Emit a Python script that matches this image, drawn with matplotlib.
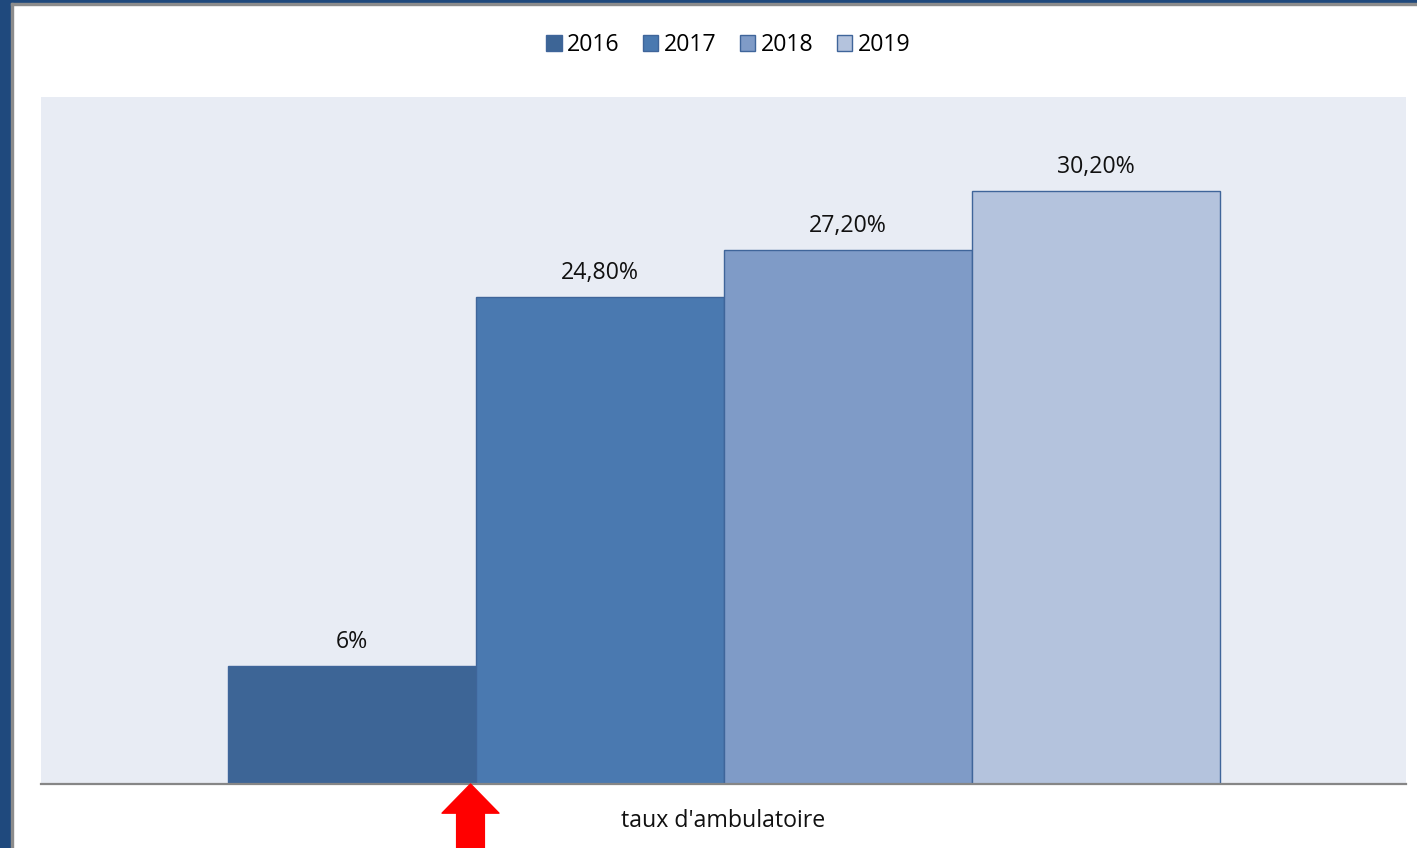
import numpy as np
import matplotlib
matplotlib.use('Agg')
from matplotlib import pyplot as plt
from matplotlib.patches import Rectangle

plt.rcParams['font.family'] = ['Open Sans', 'DejaVu Sans']

category = "taux d'ambulatoire"
years = ['2016', '2017', '2018', '2019']
values = [6.0, 24.8, 27.2, 30.2]
labels = ['6%', '24,80%', '27,20%', '30,20%']
colors = ['#3D6596', '#4A79B0', '#7F9BC7', '#B4C3DD']

fig = plt.figure(figsize=(14.17, 8.48), dpi=100)
ax = fig.add_axes([41/1417, 64/848, 1365/1417, 687/848])
ax.set_facecolor('#E8ECF4')

w = 248/1365  # bar width in data units
offsets = (np.arange(len(years)) - 1.5) * w
for off, v, c, yr, lab in zip(offsets, values, colors, years, labels):
    ax.bar(off, v, width=w, color=c, edgecolor='#3F659A', linewidth=1.0, label=yr)
    ax.annotate(lab, (off, v), xytext=(0, 9), textcoords='offset points',
                ha='center', va='bottom', fontsize=16.7, color='#111111')

ax.set_xlim(-0.5, 0.5)
ax.set_ylim(0, 35)
ax.set_yticks([])
ax.set_xticks([0])
ax.set_xticklabels([category], fontsize=16.7, color='#111111')
ax.tick_params(axis='x', length=0, pad=18)
for s in ['top', 'left', 'right']:
    ax.spines[s].set_visible(False)
ax.spines['bottom'].set_color('#868686')
ax.spines['bottom'].set_linewidth(1.6)

# red arrow pointing near the 2016/2017 boundary
xa = offsets[0] + w/2 - 5/1365
ax.annotate('', xy=(xa, 0), xycoords=('data', 'axes fraction'),
            xytext=(xa, -0.12), textcoords=('data', 'axes fraction'),
            arrowprops=dict(arrowstyle='simple,head_length=2.1,head_width=4.1,tail_width=2.0',
                            mutation_scale=10, color='red', shrinkA=0, shrinkB=0),
            annotation_clip=False)

fig.legend(loc='center', bbox_to_anchor=(0.514, 1 - 45/848), ncol=4, frameon=False,
           fontsize=16.7, handlelength=0.65, handleheight=0.65, handletextpad=0.25,
           columnspacing=1.0)

# window frame
fig.patches.append(Rectangle((0, 0), 11/1417, 1, transform=fig.transFigure,
                             color='#1F497D', zorder=10))
fig.patches.append(Rectangle((0, 1 - 3/848), 1, 3/848, transform=fig.transFigure,
                             color='#1F497D', zorder=10))
fig.patches.append(Rectangle((11/1417, 0), 2/1417, 1 - 3/848, transform=fig.transFigure,
                             color='#8C8C8C', zorder=10))
fig.patches.append(Rectangle((11/1417, 1 - 5/848), 1, 2/848, transform=fig.transFigure,
                             color='#8C8C8C', zorder=10))

fig.savefig('out.png', dpi=100)
